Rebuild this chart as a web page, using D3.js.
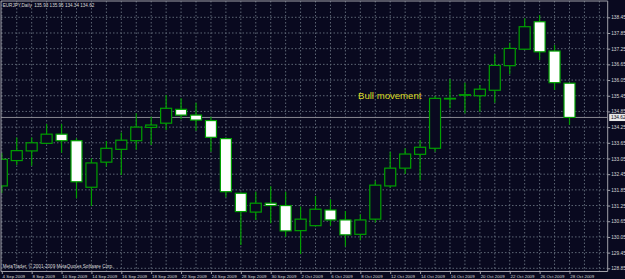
<!DOCTYPE html>
<html>
<head>
<meta charset="utf-8">
<script src="https://cdn.jsdelivr.net/npm/d3@7"></script>
<style>
body { margin: 0; background: #09091f; }
svg { display: block; }
text { font-family: "Liberation Sans", Arial, sans-serif; }
</style>
</head>
<body>
<div id="chart"></div>
<script>
var svgWidth = 625;
var svgHeight = 279;

// daily EURJPY bars, 4 Sep - 28 Oct 2009
var dates = ["4 Sep 2009", "7 Sep 2009", "8 Sep 2009", "9 Sep 2009", "10 Sep 2009", "11 Sep 2009",
  "14 Sep 2009", "15 Sep 2009", "16 Sep 2009", "17 Sep 2009", "18 Sep 2009",
  "21 Sep 2009", "22 Sep 2009", "23 Sep 2009", "24 Sep 2009", "25 Sep 2009",
  "28 Sep 2009", "29 Sep 2009", "30 Sep 2009", "1 Oct 2009", "2 Oct 2009",
  "5 Oct 2009", "6 Oct 2009", "7 Oct 2009", "8 Oct 2009", "9 Oct 2009",
  "12 Oct 2009", "13 Oct 2009", "14 Oct 2009", "15 Oct 2009", "16 Oct 2009",
  "19 Oct 2009", "20 Oct 2009", "21 Oct 2009", "22 Oct 2009", "23 Oct 2009",
  "26 Oct 2009", "27 Oct 2009", "28 Oct 2009"];

var opens  = [132.00, 132.97, 133.34, 133.63, 133.98, 133.73, 131.95, 132.91, 133.40, 133.73, 134.24,
  134.40, 134.93, 134.71, 134.50, 133.81, 131.72, 131.00, 131.34, 131.25, 130.29,
  130.48, 131.08, 130.70, 130.15, 130.73, 132.00, 132.68, 133.21, 133.44, 135.33,
  135.47, 135.45, 135.66, 136.60, 137.23, 138.28, 137.16, 135.93];
var highs  = [133.26, 133.85, 133.85, 134.37, 134.37, 133.82, 133.06, 133.72, 134.04, 134.78, 134.65,
  135.48, 135.35, 135.18, 134.65, 133.85, 131.75, 131.78, 131.99, 131.78, 131.21,
  131.62, 131.49, 131.04, 130.92, 132.20, 133.31, 133.44, 133.76, 135.44, 136.09,
  135.95, 135.86, 137.04, 137.48, 138.41, 138.54, 137.39, 135.95];
var lows   = [131.73, 132.80, 132.77, 133.60, 133.27, 131.53, 131.23, 132.74, 132.42, 133.38, 133.57,
  134.14, 134.55, 134.11, 133.31, 131.57, 129.74, 130.70, 130.57, 130.06, 129.40,
  130.45, 130.48, 129.68, 129.93, 130.60, 131.93, 132.46, 132.23, 133.31, 134.97,
  134.78, 134.84, 135.18, 136.27, 137.20, 136.82, 135.67, 134.34];
var closes = [133.02, 133.35, 133.65, 133.98, 133.73, 132.16, 132.88, 133.44, 133.75, 134.25, 134.33,
  134.97, 134.71, 134.52, 133.86, 131.78, 131.02, 131.34, 131.25, 130.28, 130.73,
  131.11, 130.70, 130.13, 130.70, 132.03, 132.68, 133.22, 133.48, 135.35, 135.35,
  135.49, 135.70, 136.61, 137.26, 138.09, 137.13, 135.95, 134.62];

var priceTicks = [138.45, 137.85, 137.25, 136.65, 136.05, 135.45, 134.85, 134.25, 133.65,
  133.05, 132.45, 131.85, 131.25, 130.65, 130.05, 129.45, 128.85];

var title = "EURJPY,Daily  135.93 135.95 134.34 134.62";
var copyright = "MetaTrader, \u00a9 2001-2009 MetaQuotes Software Corp.";
var note = "Bull movement";

var bars = dates.map(function(d, i) {
  return { date: d, i: i, open: opens[i], high: highs[i], low: lows[i], close: closes[i] };
});

// plot frame (don't call these top/left - window.top is taken)
var plotLeft = 1, plotTop = 1, plotRight = 607.7, plotBottom = 271.5;

var xScale = d3.scaleLinear().domain([0, 38]).range([1.8, 569.5]);
var yScale = d3.scaleLinear().domain([128.85, 138.45]).range([268.3, 17.3]);

var bg = "#09091f";
var green = "#00a000";
var gridColor = "#5d6675";
var axisColor = "#a0a0a8";
var textColor = "#d8d8d8";

var svg = d3.select("#chart")
  .append("svg")
  .attr("width", svgWidth)
  .attr("height", svgHeight);

svg.append("rect")
  .attr("width", svgWidth)
  .attr("height", svgHeight)
  .attr("fill", bg);

svg.append("defs").append("clipPath").attr("id", "plotClip")
  .append("rect")
  .attr("x", plotLeft).attr("y", plotTop)
  .attr("width", plotRight - plotLeft).attr("height", plotBottom - plotTop);

var plot = svg.append("g").attr("clip-path", "url(#plotClip)");

// dotted grid: one vertical per bar (runs into the empty right margin too)
var gridIdx = d3.range(0, 41);
plot.append("g").selectAll("line")
  .data(gridIdx)
  .enter().append("line")
  .attr("x1", d => xScale(d)).attr("x2", d => xScale(d))
  .attr("y1", plotTop).attr("y2", plotBottom)
  .attr("stroke", gridColor)
  .attr("stroke-width", 1)
  .attr("stroke-dasharray", "1.5,2");

plot.append("g").selectAll("line")
  .data(priceTicks)
  .enter().append("line")
  .attr("x1", plotLeft).attr("x2", plotRight)
  .attr("y1", d => yScale(d)).attr("y2", d => yScale(d))
  .attr("stroke", gridColor)
  .attr("stroke-width", 1)
  .attr("stroke-dasharray", "1.5,2");

// current price line
var lastClose = closes[closes.length - 1];
plot.append("line")
  .attr("x1", plotLeft).attr("x2", plotRight)
  .attr("y1", yScale(lastClose)).attr("y2", yScale(lastClose))
  .attr("stroke", "#8a8a92")
  .attr("stroke-width", 1);

// candles
var half = 5.5;
var candles = plot.append("g").selectAll("g")
  .data(bars)
  .enter().append("g");

candles.append("line")
  .attr("x1", d => xScale(d.i)).attr("x2", d => xScale(d.i))
  .attr("y1", d => yScale(d.high)).attr("y2", d => yScale(d.low))
  .attr("stroke", green)
  .attr("stroke-width", 1.2);

candles.append("rect")
  .attr("x", d => xScale(d.i) - half)
  .attr("width", half * 2)
  .attr("y", d => yScale(Math.max(d.open, d.close)))
  .attr("height", d => Math.max(0.6, Math.abs(yScale(d.open) - yScale(d.close))))
  .attr("fill", d => d.close < d.open ? "#ffffff" : bg)
  .attr("stroke", green)
  .attr("stroke-width", 1.2);

// annotation
plot.append("text")
  .attr("x", 358)
  .attr("y", 99)
  .attr("font-size", "9.6px")
  .attr("fill", "#dada22")
  .text(note);

// frame lines
svg.append("line")
  .attr("x1", plotLeft).attr("x2", plotRight).attr("y1", plotTop).attr("y2", plotTop)
  .attr("stroke", axisColor).attr("stroke-width", 1);
svg.append("line")
  .attr("x1", plotLeft).attr("x2", plotLeft).attr("y1", plotTop).attr("y2", plotBottom)
  .attr("stroke", axisColor).attr("stroke-width", 1);

// right price axis
var priceAxis = d3.axisRight(yScale)
  .tickValues(priceTicks)
  .tickFormat(d3.format(".2f"))
  .tickSize(2.5)
  .tickPadding(1);

var yAxis = svg.append("g")
  .attr("transform", `translate(${plotRight}, 0)`)
  .call(priceAxis);
yAxis.select(".domain").remove();
yAxis.selectAll("line").attr("stroke", axisColor);
yAxis.selectAll("text")
  .attr("fill", textColor)
  .attr("font-size", "4.8px")
  .attr("font-family", "Liberation Sans, Arial, sans-serif");

svg.append("line")
  .attr("x1", plotRight).attr("x2", plotRight).attr("y1", plotTop).attr("y2", plotBottom)
  .attr("stroke", axisColor).attr("stroke-width", 1);

// current price tag
svg.append("rect")
  .attr("x", plotRight + 1.5).attr("y", yScale(lastClose) - 3.6)
  .attr("width", svgWidth - plotRight - 1.5).attr("height", 7.2)
  .attr("fill", "#e8e8e8");
svg.append("text")
  .attr("x", plotRight + 3.3).attr("y", yScale(lastClose) + 1.7)
  .attr("font-size", "4.8px")
  .attr("fill", "#0a0a1a")
  .text(d3.format(".2f")(lastClose));

// bottom date axis, every second bar
var dateAxis = d3.axisBottom(xScale)
  .tickValues(d3.range(0, dates.length, 2))
  .tickFormat(i => dates[i])
  .tickSize(2.5);

var xAxis = svg.append("g")
  .attr("transform", `translate(0, ${plotBottom})`)
  .call(dateAxis);
xAxis.select(".domain").remove();
xAxis.selectAll("line").attr("stroke", axisColor);
xAxis.selectAll("text")
  .attr("text-anchor", "start")
  .attr("x", 0.3)
  .attr("y", 6.3)
  .attr("dy", null)
  .attr("fill", textColor)
  .attr("font-size", "4.4px")
  .attr("font-family", "Liberation Sans, Arial, sans-serif");

svg.append("line")
  .attr("x1", plotLeft).attr("x2", plotRight).attr("y1", plotBottom).attr("y2", plotBottom)
  .attr("stroke", axisColor).attr("stroke-width", 1);

// header and footer labels
svg.append("text")
  .attr("x", 2.7).attr("y", 7.2)
  .attr("font-size", "4.6px")
  .attr("fill", textColor)
  .attr("xml:space", "preserve")
  .style("white-space", "pre")
  .text(title);

svg.append("text")
  .attr("x", 2.7).attr("y", 268.2)
  .attr("font-size", "4.6px")
  .attr("fill", textColor)
  .text(copyright);
</script>
</body>
</html>
